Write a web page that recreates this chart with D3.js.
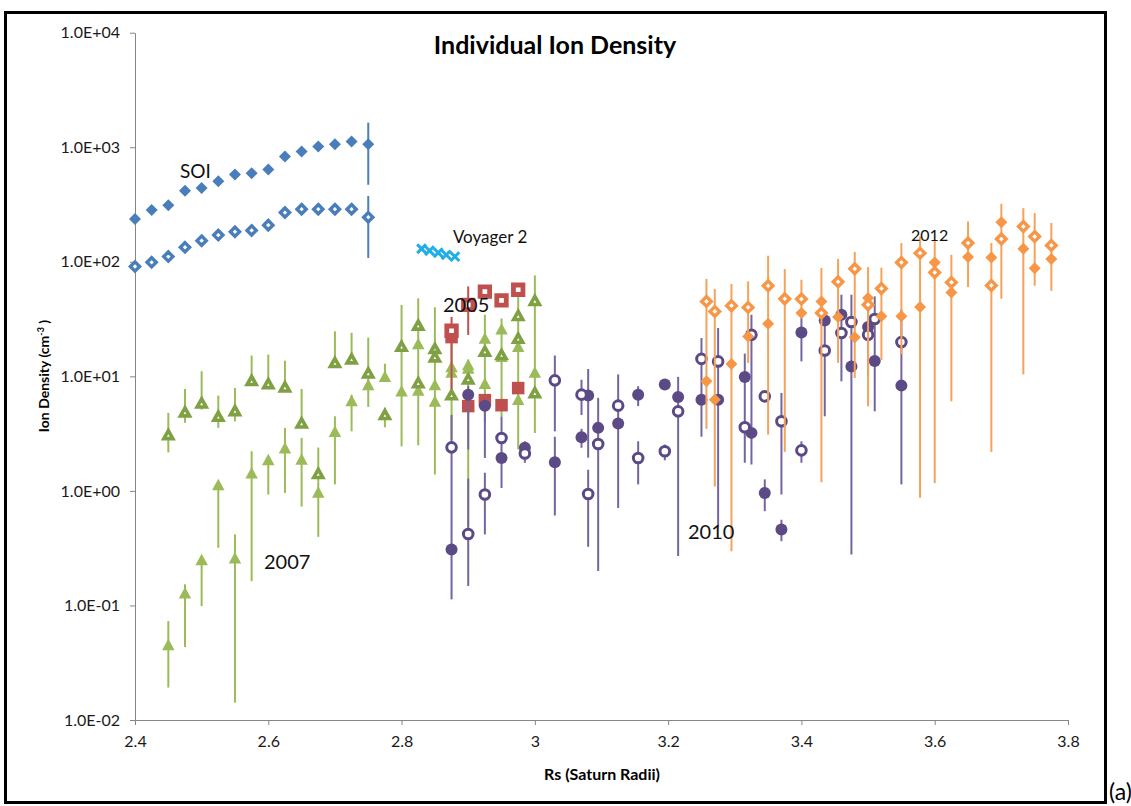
<!DOCTYPE html>
<html>
<head>
<meta charset="utf-8">
<script src="https://cdn.jsdelivr.net/npm/d3@7"></script>
<style>
  html, body { margin: 0; padding: 0; background: #fff; }
  svg { display: block; font-family: Lato, "Open Sans", sans-serif; }
</style>
</head>
<body>
<svg id="chart" width="1131" height="806"></svg>
<script>
// ---------- data : ion density (cm^-3) versus distance (Rs) ----------

// SOI pass
const soiX      = [2.4, 2.425, 2.45, 2.475, 2.5, 2.525, 2.55, 2.575, 2.6, 2.625, 2.65, 2.675, 2.7, 2.725, 2.75];
const soiFilled = [236, 283, 312, 417, 440, 506, 578, 594, 639, 829, 917, 1013, 1064, 1120, 1060];
const soiOpen   = [91, 99, 111, 134, 153, 171, 183, 188, 209, 269, 288, 288, 288, 288, 245];
const soiBarX   = [2.75, 2.75];
const soiBarLo  = [470, 108];
const soiBarHi  = [1640, 375];

// Voyager 2
const vgrX = [2.83, 2.842, 2.855, 2.867, 2.88];
const vgrY = [130, 125, 120, 115, 111];

// 2005
const r05X      = [2.875, 2.9, 2.925, 2.95, 2.975];
const r05Open   = [25, 42, 55, 46, 57];
const r05Filled = [22, 5.5, 6.2, 5.6, 7.9];
const r05BarX   = [2.875, 2.9];
const r05BarLo  = [7.7, 23];
const r05BarHi  = [33, 61];

// 2007
const g07OpenX  = [2.45, 2.475, 2.5, 2.525, 2.55, 2.575, 2.6, 2.625, 2.65, 2.675, 2.7, 2.725, 2.75, 2.775, 2.8,
                   2.825, 2.825, 2.85, 2.85, 2.875, 2.9, 2.925, 2.95, 2.975, 2.975, 3.0, 3.0];
const g07Open   = [3.1, 4.9, 5.86, 4.48, 5.02, 9.2, 8.64, 8.08, 3.92, 1.42, 13.2, 14.2, 10.7, 4.64, 18.3,
                   28, 8.8, 17.5, 14.8, 6.9, 9.5, 16.6, 15.5, 34, 21.5, 46, 7.2];
const g07FilledX = [2.45, 2.475, 2.5, 2.525, 2.55, 2.575, 2.6, 2.625, 2.65, 2.675, 2.7, 2.725, 2.75, 2.775, 2.8,
                    2.825, 2.825, 2.85, 2.85, 2.875, 2.875, 2.9, 2.9, 2.925, 2.925, 2.95, 2.95, 2.975, 2.975, 3.0];
const g07Filled  = [0.0457, 0.129, 0.252, 1.14, 0.261, 1.44, 1.88, 2.38, 1.9, 0.98, 3.31, 6.14, 8.47, 10.0, 7.5,
                    19.4, 7.6, 8.5, 6.1, 12.2, 10.9, 12.7, 11.8, 21.6, 8.7, 26, 15, 18.3, 6.3, 10.9];
const g07BarX  = [2.45, 2.475, 2.5, 2.525, 2.55, 2.575, 2.6, 2.625, 2.65, 2.675, 2.7, 2.725, 2.75, 2.775,
                  2.45, 2.475, 2.5, 2.525, 2.55, 2.575, 2.6, 2.625, 2.65, 2.675, 2.7, 2.725, 2.75, 2.775,
                  2.8, 2.825, 2.85, 2.875, 2.9, 2.925, 2.95, 2.975, 3.0];
const g07BarLo = [2.17, 3.93, 5.13, 3.55, 4.05, 9.2, 8.64, 8.08, 3.92, 1.21, 13.2, 14.2, 10.7, 3.59,
                  0.0192, 0.0434, 0.0986, 0.319, 0.0142, 0.163, 0.93, 0.96, 0.73, 0.397, 1.14, 3.31, 5.41, 10,
                  2.45, 2.5, 1.39, 2.8, 0.49, 4, 4.5, 2.3, 3.2];
const g07BarHi = [4.8, 7.76, 11.1, 6.79, 7.93, 15.2, 15.5, 13.7, 7.76, 2.39, 24.7, 24.0, 21.8, 5.33,
                  0.073, 0.153, 0.252, 1.14, 0.417, 2.22, 1.88, 3.55, 2.9, 1.21, 4.48, 6.92, 10, 12.9,
                  42, 48, 40, 20, 14, 34.5, 32, 57, 76];

// 2010
const p10X      = [2.875, 2.9, 2.925, 2.95, 2.985, 3.03, 3.07, 3.08, 3.095, 3.125, 3.155, 3.195, 3.215,
                   3.25, 3.275, 3.315, 3.325, 3.345, 3.37, 3.4, 3.435, 3.46, 3.475, 3.5, 3.51, 3.55];
const p10Open   = [2.4, 0.42, 0.93, 2.9, 2.12, 9.23, 6.92, 0.94, 2.57, 5.55, 1.94, 2.22, 4.95,
                   14.2, 13.5, 3.59, 23.1, 6.69, 4.05, 2.26, 16.8, 23.9, 29.8, 23.1, 31.7, 19.9];
const p10Filled = [0.308, 6.92, 5.55, 1.94, 2.38, 1.78, 2.94, 6.79, 3.55, 3.87, 6.92, 8.47, 6.61,
                   6.26, 6.26, 9.88, 3.21, 0.96, 0.46, 24.2, 30.8, 34.5, 12.2, 27.0, 13.6, 8.3];
const p10BarX  = [2.875, 2.9, 2.9, 2.925, 2.925, 2.95, 2.985, 3.03, 3.03, 3.07, 3.07, 3.08, 3.08, 3.095,
                  3.125, 3.155, 3.155, 3.195, 3.215, 3.25, 3.275, 3.315, 3.325, 3.345, 3.37, 3.37, 3.4, 3.4,
                  3.435, 3.46, 3.475, 3.5, 3.51, 3.55];
const p10BarLo = [0.113, 0.148, 2.3, 0.417, 1.94, 1.06, 1.76, 3.31, 0.61, 4.6, 2.38, 1.95, 0.325, 0.2,
                  0.71, 5.5, 1.14, 1.85, 0.27, 2.97, 0.49, 1.76, 1.7, 0.665, 0.93, 0.364, 1.76, 13.5,
                  4.48, 9.04, 0.279, 10, 4.95, 1.14];
const p10BarHi = [4.6, 1.28, 8.2, 1.44, 6.26, 4.48, 2.71, 15.2, 2.97, 9.35, 3.48, 11.6, 1.53, 6.49,
                  10.4, 8.2, 2.71, 2.54, 9.9, 21.6, 26.4, 15.8, 34.5, 1.26, 7.16, 0.56, 2.71, 32.3,
                  34.5, 51.6, 51.6, 46.7, 49.9, 38.2];

// 2012
const o12X      = [3.2575, 3.27, 3.295, 3.32, 3.35, 3.375, 3.4, 3.43, 3.455, 3.48, 3.5, 3.52, 3.55, 3.578,
                   3.6, 3.625, 3.65, 3.685, 3.7, 3.733, 3.75, 3.775];
const o12Open   = [45.1, 36.9, 41.4, 40.0, 61.8, 47.6, 47.3, 35.7, 67.0, 86.9, 42.2, 58.5, 98.7, 119,
                   80.7, 66.1, 146, 62.2, 158, 203, 166, 139];
const o12Filled = [9.04, 6.26, 12.8, 22.3, 28.8, 46.7, 35.7, 45.1, 33.0, 21.9, 48.3, 33.4, 33.4, 40.3,
                   98.7, 54, 110, 109, 222, 130, 88, 106];
const o12BarLo  = [3.48, 1.09, 0.298, 13.1, 3.1, 2.19, 32.5, 1.19, 13.1, 9.68, 5.47, 13.9, 15.6, 0.87,
                   1.17, 6.05, 60.3, 2.19, 47.6, 10.4, 61.8, 55.8];
const o12BarHi  = [70.8, 57.8, 64, 67.5, 113, 86.5, 69.7, 88.2, 106, 122, 90, 88.7, 146, 166,
                   156, 115, 225, 146, 321, 294, 266, 218];

// axis ticks
const yTicks      = [0.01, 0.1, 1, 10, 100, 1000, 10000];
const yTickLabels = ["1.0E-02", "1.0E-01", "1.0E+00", "1.0E+01", "1.0E+02", "1.0E+03", "1.0E+04"];
const xTicks      = [2.4, 2.6, 2.8, 3.0, 3.2, 3.4, 3.6, 3.8];
const xTickLabels = ["2.4", "2.6", "2.8", "3", "3.2", "3.4", "3.6", "3.8"];

// in-plot annotations, placed in data coordinates
const noteText = ["SOI", "Voyager 2", "2005", "2007", "2010", "2012"];
const noteX    = [2.4675, 2.877, 2.862, 2.5936, 3.2298, 3.5645];
const noteY    = [541, 147, 36.6, 0.206, 0.377, 153];
const noteSize = [19, 17, 20, 20, 20, 16];

// ---------- drawing ----------
const svg = d3.select("#chart");

const x = d3.scaleLinear().domain([2.4, 3.8]).range([135, 1068]);
const y = d3.scaleLog().domain([0.01, 10000]).range([720, 32.7]);

const C = {
  blue: "#4A7EBB",
  cyan: "#1FAEE8",
  red: "#C0504D",
  green: "#9BBB59",
  greenDark: "#7FA143",
  purple: "#5B4A86",
  purpleBar: "#7465A0",
  orange: "#F79646",
  orangeBar: "#F5A35A",
  axis: "#868686"
};

// outer frame
svg.append("rect")
  .attr("x", 5.5).attr("y", 12.5).attr("width", 1100).attr("height", 790)
  .attr("fill", "none").attr("stroke", "#000").attr("stroke-width", 3);

svg.append("text")
  .attr("x", 1109).attr("y", 800)
  .attr("font-family", "Lato, sans-serif").attr("font-size", 23).attr("fill", "#000")
  .text("(a)");

// axes
const yAxis = d3.axisLeft(y)
  .tickValues(yTicks)
  .tickFormat((d, i) => yTickLabels[i])
  .tickSizeInner(5).tickSizeOuter(0).tickPadding(10);
const xAxis = d3.axisBottom(x)
  .tickValues(xTicks)
  .tickFormat((d, i) => xTickLabels[i])
  .tickSizeInner(5).tickSizeOuter(0).tickPadding(11);

const gy = svg.append("g").attr("transform", `translate(${x(2.4)},0)`).call(yAxis);
const gx = svg.append("g").attr("transform", `translate(0,${y(0.01)})`).call(xAxis);
[gx, gy].forEach(g => {
  g.select(".domain").attr("stroke", C.axis).attr("stroke-width", 1);
  g.selectAll(".tick line").attr("stroke", C.axis);
  g.selectAll(".tick text").attr("fill", "#1a1a1a").attr("font-size", 16)
    .attr("font-family", "Lato, sans-serif");
});

// title and axis titles
svg.append("text")
  .attr("x", 555).attr("y", 54).attr("text-anchor", "middle")
  .attr("font-size", 25).attr("font-weight", "bold").attr("fill", "#000")
  .text("Individual Ion Density");

svg.append("text")
  .attr("x", 602).attr("y", 780).attr("text-anchor", "middle")
  .attr("font-size", 16).attr("font-weight", "bold").attr("fill", "#000")
  .text("Rs (Saturn Radii)");

const yt = svg.append("text")
  .attr("transform", "translate(49,376) rotate(-90)")
  .attr("text-anchor", "middle")
  .attr("font-size", 14).attr("font-weight", "bold").attr("fill", "#000");
yt.append("tspan").text("Ion Density (cm");
yt.append("tspan").attr("baseline-shift", "super").attr("font-size", 9).text("-3");
yt.append("tspan").text(" )");

// marker shapes
const diamond = h => `M0,${-h}L${h},0L0,${h}L${-h},0Z`;
const triangle = (w, h) => `M0,${-h / 2}L${w / 2},${h / 2}L${-w / 2},${h / 2}Z`;
const square = s => `M${-s / 2},${-s / 2}h${s}v${s}h${-s}Z`;
const cross = s => `M${-s},${-s}L${s},${s}M${-s},${s}L${s},${-s}`;

const plot = svg.append("g");

function bars(xs, lo, hi, color, width = 2) {
  plot.append("g").selectAll("line")
    .data(xs.map((d, i) => ({ x: d, lo: lo[i], hi: hi[i] })))
    .join("line")
    .attr("x1", d => x(d.x)).attr("x2", d => x(d.x))
    .attr("y1", d => y(d.lo)).attr("y2", d => y(d.hi))
    .attr("stroke", color).attr("stroke-width", width);
}

function markers(xs, vs, shape, opts) {
  plot.append("g").selectAll("path")
    .data(xs.map((d, i) => ({ x: d, v: vs[i] })))
    .join("path")
    .attr("transform", d => `translate(${x(d.x)},${y(d.v)})`)
    .attr("d", shape)
    .attr("fill", opts.fill)
    .attr("stroke", opts.stroke || "none")
    .attr("stroke-width", opts.sw || 0)
    .attr("stroke-linejoin", "miter");
}

function circles(xs, vs, r, opts) {
  plot.append("g").selectAll("circle")
    .data(xs.map((d, i) => ({ x: d, v: vs[i] })))
    .join("circle")
    .attr("cx", d => x(d.x)).attr("cy", d => y(d.v)).attr("r", r)
    .attr("fill", opts.fill)
    .attr("stroke", opts.stroke || "none")
    .attr("stroke-width", opts.sw || 0);
}

// SOI
bars(soiBarX, soiBarLo, soiBarHi, C.blue);
markers(soiX, soiFilled, diamond(6), { fill: C.blue });
markers(soiX, soiOpen, diamond(4.6), { fill: "#fff", stroke: C.blue, sw: 3.4 });

// 2007
bars(g07BarX, g07BarLo, g07BarHi, C.green);
markers(g07FilledX, g07Filled, triangle(12.5, 11.5), { fill: C.green });
markers(g07OpenX, g07Open, triangle(9, 8), { fill: "#fff", stroke: C.greenDark, sw: 3.6 });

// 2005
bars(r05BarX, r05BarLo, r05BarHi, C.red);
markers(r05X, r05Filled, square(12.5), { fill: C.red });
markers(r05X, r05Open, square(9.5), { fill: "#fff", stroke: C.red, sw: 4.8 });

// 2010
bars(p10BarX, p10BarLo, p10BarHi, C.purpleBar);
circles(p10X, p10Filled, 6, { fill: C.purple });
circles(p10X, p10Open, 4.8, { fill: "#fff", stroke: C.purple, sw: 3 });

// 2012
bars(o12X, o12BarLo, o12BarHi, C.orangeBar);
markers(o12X, o12Filled, diamond(6), { fill: C.orange });
markers(o12X, o12Open, diamond(4.8), { fill: "#fff", stroke: C.orange, sw: 3.4 });

// Voyager 2
plot.append("g").selectAll("path")
  .data(vgrX.map((d, i) => ({ x: d, v: vgrY[i] })))
  .join("path")
  .attr("transform", d => `translate(${x(d.x)},${y(d.v)})`)
  .attr("d", cross(4.4))
  .attr("fill", "none").attr("stroke", C.cyan).attr("stroke-width", 3);

// annotations
svg.append("g").selectAll("text")
  .data(noteText.map((t, i) => ({ t, x: noteX[i], v: noteY[i], s: noteSize[i] })))
  .join("text")
  .attr("x", d => x(d.x)).attr("y", d => y(d.v))
  .attr("font-size", d => d.s).attr("fill", "#111")
  .text(d => d.t);
</script>
</body>
</html>
